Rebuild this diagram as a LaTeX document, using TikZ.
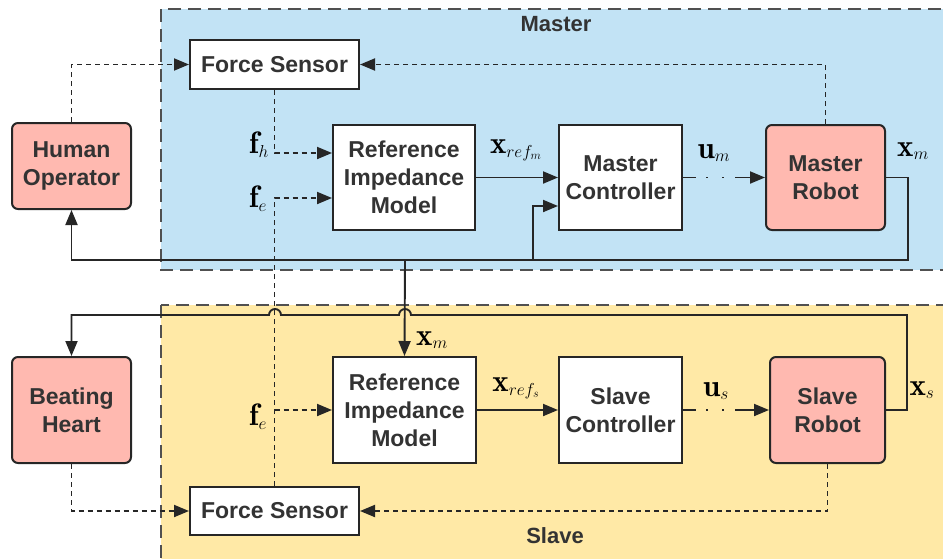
\documentclass[tikz,border=0pt]{standalone}
\usepackage{fontspec}
\setsansfont{Liberation Sans}
\usetikzlibrary{arrows.meta}
\DeclareMathSizes{31}{31}{17}{12}
\definecolor{masterblue}{HTML}{C2E3F5}
\definecolor{slaveyellow}{HTML}{FFE9A6}
\definecolor{salmon}{HTML}{FFB9B0}
\definecolor{txtgray}{HTML}{333333}
\definecolor{framegray}{HTML}{505050}
\tikzset{
  region/.style={draw=framegray, line width=1.8pt, dash pattern=on 13pt off 7pt},
  block/.style={draw=black!85, line width=2pt, fill=white, align=center,
    font=\sffamily\bfseries\fontsize{23}{28}\selectfont, text=txtgray},
  plant/.style={block, fill=salmon, rounded corners=6pt},
  sig/.style={draw=black!85, line width=1.9pt, -{Triangle[length=15pt,width=12pt]}},
  fsig/.style={sig, dash pattern=on 5pt off 4pt},
  usig/.style={sig, dash pattern=on 13pt off 10pt on 2pt off 14pt on 2pt off 11pt on 60pt},
  lbl/.style={font=\fontsize{31}{33}\selectfont},
  regionlbl/.style={font=\sffamily\bfseries\fontsize{22}{25}\selectfont, text=txtgray}
}
\begin{document}
\begin{tikzpicture}[x=1pt,y=-1pt]
\useasboundingbox (0,0) rectangle (943,558);
% regions
\fill[masterblue] (161,9) rectangle (960,270);
\draw[region] (161,9) rectangle (960,270);
\fill[slaveyellow] (161,305) rectangle (960,570);
\draw[region] (161,305) rectangle (960,570);
\node[regionlbl] (mlbl) at (556,24) {Master};
\node[regionlbl] (slbl) at (555,536) {Slave};

% blocks
\node[plant, minimum width=119pt, minimum height=86pt] (ho) at (71.5,166) {Human\\Operator};
\node[plant, minimum width=119pt, minimum height=106pt] (bh) at (71.5,410) {Beating\\Heart};
\node[block, minimum width=169pt, minimum height=49pt] (fsm) at (274.5,64.5) {Force Sensor};
\node[block, minimum width=142pt, minimum height=105pt] (rimm) at (404,177.5) {Reference\\Impedance\\Model};
\node[block, minimum width=123pt, minimum height=105pt] (mc) at (620.5,177.5) {Master\\Controller};
\node[plant, minimum width=119pt, minimum height=105pt] (mr) at (825.5,177.5) {Master\\Robot};
\node[block, minimum width=143pt, minimum height=106pt] (rims) at (404.5,410) {Reference\\Impedance\\Model};
\node[block, minimum width=123pt, minimum height=106pt] (sc) at (620.5,410) {Slave\\Controller};
\node[plant, minimum width=115pt, minimum height=106pt] (sr) at (827.5,410) {Slave\\Robot};
\node[block, minimum width=169pt, minimum height=48pt] (fss) at (274.5,511) {Force Sensor};

% force signals
\draw[fsig] (ho.north) |- (fsm.west);
\draw[fsig] (mr.north) |- (fsm.east);
\draw[fsig] (fsm.south) |- (rimm.west |- 0,153);
\draw[fsig] (fss.north) |- (rimm.west |- 0,198);
\draw[fsig] (fss.north |- 0,410) -- (rims.west);
\draw[fsig] (bh.south) |- (fss.west);
\draw[fsig] (sr.south) |- (fss.east);

% master loop
\draw[sig] (rimm.east) -- (mc.west);
\draw[usig] (mc.east) -- (mr.west);
\draw[sig] (mr.east) -- ++(22,0) |- (ho.south |- 0,260) -- (ho.south);
\coordinate (brm) at (533,260);
\draw[sig] (brm) |- (mc.west |- 0,206);
\coordinate (brs) at (405,260);
\draw[sig] (brs) -- (rims.north);

% slave loop
\draw[sig] (rims.east) -- (sc.west);
\draw[usig] (sc.east) -- (sr.west);
\draw[sig] (sr.east) -- ++(21,0) |- (411,315)
  arc[start angle=0, end angle=180, radius=6pt] -- (281,315)
  arc[start angle=0, end angle=180, radius=6pt] -| (bh.north);

% labels
\node[lbl] (fh) at (259,145) {$\mathbf{f}_{h}$};
\node[lbl] (fem) at (258,199) {$\mathbf{f}_{e}$};
\node[lbl] (fes) at (258,417) {$\mathbf{f}_{e}$};
\node[lbl] (xrm) at (516,150) {$\mathbf{x}_{ref_m}$};
\node[lbl] (um) at (714,153) {$\mathbf{u}_{m}$};
\node[lbl] (xm) at (913,151) {$\mathbf{x}_{m}$};
\node[lbl] (xms) at (432,340) {$\mathbf{x}_{m}$};
\node[lbl] (xrs) at (516,388) {$\mathbf{x}_{ref_s}$};
\node[lbl] (us) at (716,391) {$\mathbf{u}_{s}$};
\node[lbl] (xs) at (922,390) {$\mathbf{x}_{s}$};
\end{tikzpicture}
\end{document}
